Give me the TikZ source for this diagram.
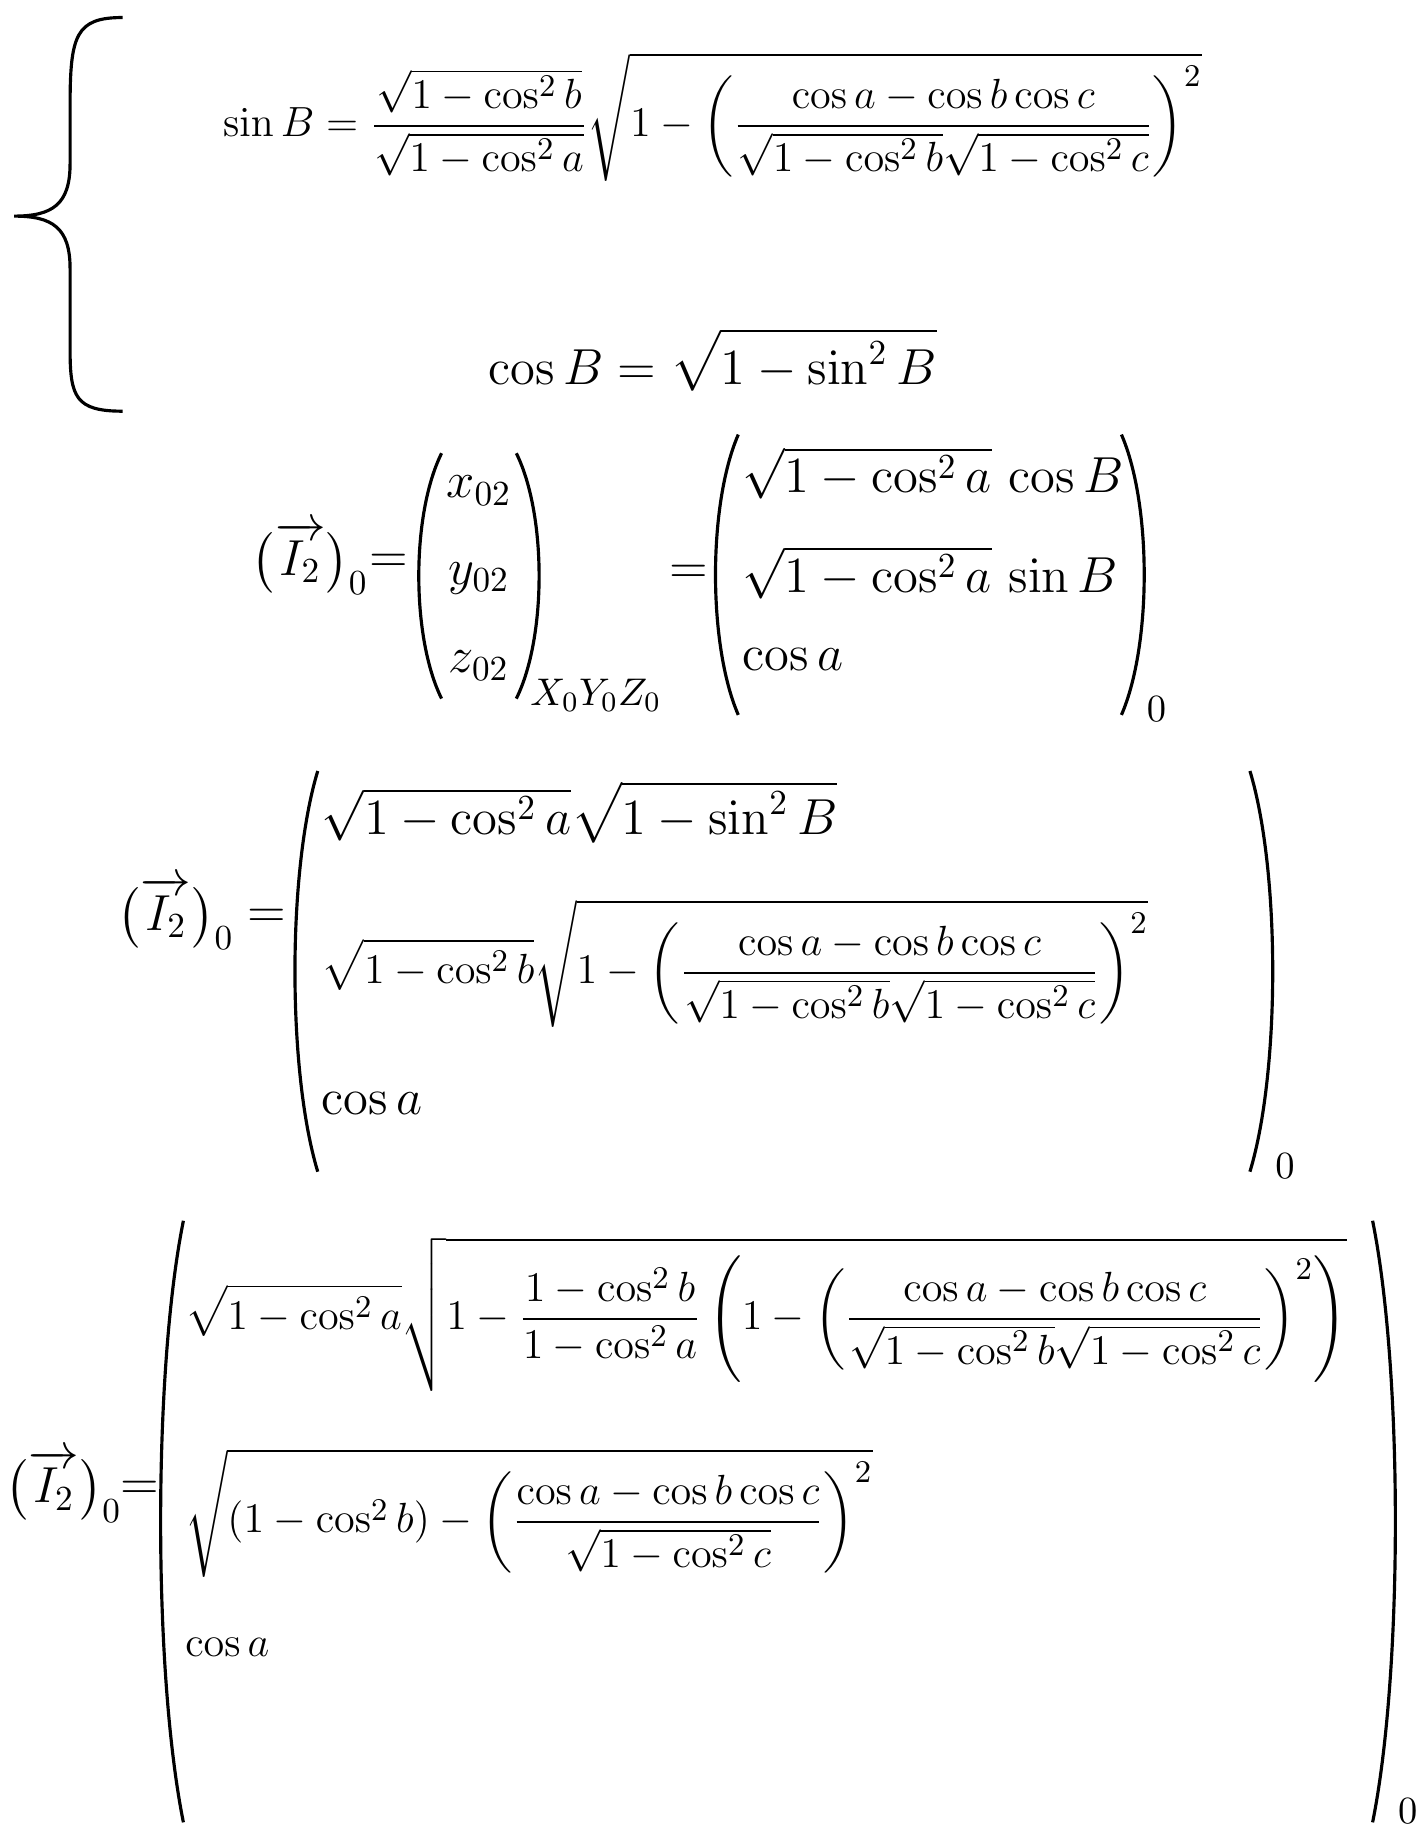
\documentclass[tikz,border=0pt]{standalone}
\usepackage{amsmath}
\begin{document}
\begin{tikzpicture}[x=0.01168cm,y=-0.01168cm,
  pp/.style={line width=0.9pt},
  eq/.style={font=\fontsize{15}{18}\selectfont, inner sep=0pt},
  eqs/.style={font=\fontsize{12.5}{15}\selectfont, inner sep=0pt},
  eqm/.style={font=\fontsize{14}{17}\selectfont, inner sep=0pt},
  eqn/.style={font=\fontsize{13}{16}\selectfont, inner sep=0pt},
  sub/.style={font=\fontsize{11}{13}\selectfont, inner sep=0pt}]
\useasboundingbox (0,0) rectangle (1220,1564);
\newcommand\lp[3]{\draw[pp] ({#1+20},#2) .. controls ({#1-6},{#2+0.25*(#3-#2)}) and ({#1-6},{#3-0.25*(#3-#2)}) .. ({#1+20},#3);}
\newcommand\rp[3]{\draw[pp] ({#1-20},#2) .. controls ({#1+6},{#2+0.25*(#3-#2)}) and ({#1+6},{#3-0.25*(#3-#2)}) .. ({#1-20},#3);}
% brace
\draw[pp] (105,15) .. controls (65,15) and (60,30) .. (60,90) -- (60,140) .. controls (60,175) and (45,185) .. (12,185) .. controls (45,185) and (60,195) .. (60,230) -- (60,300) .. controls (60,340) and (65,352) .. (105,352);
\node[eqs] (s1) at (610,100) {$\displaystyle \sin B=\frac{\sqrt{1-\cos^2 b}}{\sqrt{1-\cos^2 a}}\sqrt{1-\left(\frac{\cos a-\cos b\cos c}{\sqrt{1-\cos^2 b}\sqrt{1-\cos^2 c}}\right)^2}$};
\node[eqm] (s2) at (610,308) {$\displaystyle \cos B=\sqrt{1-\sin^2 B}$};
% line 3
\node[eqm,anchor=west] (a3) at (215,478) {$\bigl(\overrightarrow{I_2}\bigr)_{0}$};
\node[eq] (e3a) at (333,482) {$=$};
\lp{358}{388}{598}\rp{462}{388}{598}
\node[eqm] (x02) at (410,420) {$x_{02}$};
\node[eqm] (y02) at (410,495) {$y_{02}$};
\node[eqm] (z02) at (410,570) {$z_{02}$};
\node[sub] (xyz) at (510,595) {$X_0Y_0Z_0$};
\node[eq] (e3) at (590,492) {$=$};
\lp{612}{372}{612}\rp{980}{372}{612}
\node[eqm,anchor=west] (r31) at (635,405) {$\sqrt{1-\cos^2 a}\,\cos B$};
\node[eqm,anchor=west] (r32) at (635,490) {$\sqrt{1-\cos^2 a}\,\sin B$};
\node[eqm,anchor=west] (r33) at (635,565) {$\cos a$};
\node[sub] (z3) at (990,607) {$0$};
% line 4
\node[eqm,anchor=west] (a4) at (100,782) {$\bigl(\overrightarrow{I_2}\bigr)_{0}$};
\node[eq] (e4) at (228,786) {$=$};
\lp{252}{660}{1003}\rp{1090}{660}{1003}
\node[eqm,anchor=west] (r41) at (275,695) {$\sqrt{1-\cos^2 a}\sqrt{1-\sin^2 B}$};
\node[eqn,anchor=west] (r42) at (275,825) {$\displaystyle\sqrt{1-\cos^2 b}\sqrt{1-\left(\frac{\cos a-\cos b\cos c}{\sqrt{1-\cos^2 b}\sqrt{1-\cos^2 c}}\right)^2}$};
\node[eqm,anchor=west] (r43) at (275,945) {$\cos a$};
\node[sub] (z4) at (1100,998) {$0$};
% line 5
\node[eqm,anchor=west] (a5) at (4,1272) {$\bigl(\overrightarrow{I_2}\bigr)_{0}$};
\node[eq] (e5) at (120,1276) {$=$};
\lp{137}{1045}{1560}\rp{1195}{1045}{1560}
\node[eqs,anchor=west] (r51) at (158,1125) {$\displaystyle\sqrt{1-\cos^2 a}\sqrt{1-\frac{1-\cos^2 b}{1-\cos^2 a}\left(1-\left(\frac{\cos a-\cos b\cos c}{\sqrt{1-\cos^2 b}\sqrt{1-\cos^2 c}}\right)^2\right)}$};
\node[eqs,anchor=west] (r52) at (158,1295) {$\displaystyle\sqrt{(1-\cos^2 b)-\left(\frac{\cos a-\cos b\cos c}{\sqrt{1-\cos^2 c}}\right)^2}$};
\node[eqs,anchor=west] (r53) at (158,1410) {$\cos a$};
\node[sub] (z5) at (1205,1550) {$0$};
\end{tikzpicture}
\end{document}
